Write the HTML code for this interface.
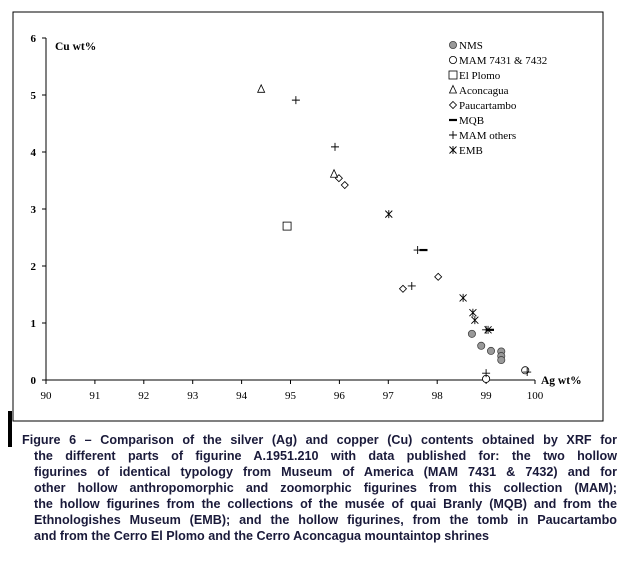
<!DOCTYPE html>
<html><head><meta charset="utf-8"><style>
body{margin:0;background:#fff;width:633px;height:569px;overflow:hidden;position:relative}
svg{position:absolute;left:0;top:0}
#cap{position:absolute;left:22px;top:432px;width:595px;font:bold 12.6px/16px "Liberation Sans",sans-serif;color:#1a1a3a}
#cap div{text-align:justify;text-align-last:justify;padding-left:12px;white-space:nowrap}
#cap div.first{padding-left:0}
#cap div.last{text-align-last:left}
#bar{position:absolute;left:8px;top:411px;width:4px;height:36px;background:#000}
</style></head><body>
<svg id="chart" width="633" height="569" font-family="Liberation Serif, serif">
<rect x="13" y="12" width="590" height="409" fill="none" stroke="#000" stroke-width="1"/>
</svg>
<div id="bar"></div>
<div id="cap">
<div class="first">Figure 6 – Comparison of the silver (Ag) and copper (Cu) contents obtained by XRF for</div>
<div>the different parts of figurine A.1951.210 with data published for: the two hollow</div>
<div>figurines of identical typology from Museum of America (MAM 7431 &amp; 7432) and for</div>
<div>other hollow anthropomorphic and zoomorphic figurines from this collection (MAM);</div>
<div>the hollow figurines from the collections of the musée of quai Branly (MQB) and from the</div>
<div>Ethnologishes Museum (EMB); and the hollow figurines, from the tomb in Paucartambo</div>
<div class="last">and from the Cerro El Plomo and the Cerro Aconcagua mountaintop shrines</div>
</div>
<script>
const xTicks=[90,91,92,93,94,95,96,97,98,99,100];
const yTicks=[0,1,2,3,4,5,6];
const seriesNames=["NMS","MAM 7431 & 7432","El Plomo","Aconcagua","Paucartambo","MQB","MAM others","EMB"];
const nmsAg=[98.71,98.9,99.1,99.31,99.31,99.31];
const nmsCu=[0.81,0.6,0.51,0.5,0.42,0.35];
const mam74Ag=[99.0,99.8];
const mam74Cu=[0.02,0.17];
const plomoAg=[94.93];
const plomoCu=[2.7];
const aconAg=[94.4,95.89];
const aconCu=[5.1,3.61];
const paucAg=[95.99,96.11,97.3,98.02];
const paucCu=[3.54,3.42,1.6,1.81];
const mqbAg=[97.72,99.08];
const mqbCu=[2.28,0.88];
const mamAg=[95.11,95.91,97.48,99.0,99.84,97.6,99.0];
const mamCu=[4.91,4.09,1.65,0.12,0.14,2.28,0.88];
const embAg=[97.01,98.53,98.73,98.77,99.04];
const embCu=[2.91,1.44,1.18,1.05,0.88];

const NS="http://www.w3.org/2000/svg";
const svg=document.getElementById('chart');
const X=v=>46+(v-90)*48.9;
const Y=v=>380-v*57;
function mk(t,a,p){const e=document.createElementNS(NS,t);for(const k in a)e.setAttribute(k,a[k]);(p||svg).appendChild(e);return e;}
const axes=mk('g',{});


let l=mk('line',{x1:X(90),y1:Y(0),x2:X(100),y2:Y(0),stroke:'#000'},axes);


l=mk('line',{x1:X(90),y1:Y(0),x2:X(90),y2:Y(6),stroke:'#000'},axes);


xTicks.forEach(t=>{
 mk('line',{x1:X(t),y1:Y(0),x2:X(t),y2:Y(0)+4,stroke:'#000'},axes);
 const tx=mk('text',{x:X(t),y:Y(0)+19,'font-size':11,'text-anchor':'middle'},axes);
 tx.textContent=t;
 
 
});
yTicks.forEach(t=>{
 mk('line',{x1:X(90)-4,y1:Y(t),x2:X(90),y2:Y(t),stroke:'#000'},axes);
 const tx=mk('text',{x:X(90)-10,y:Y(t)+4,'font-size':11,'font-weight':'bold','text-anchor':'end'},axes);
 tx.textContent=t;
 
 
});
let tt=mk('text',{x:55,y:50,'font-size':11.5,'font-weight':'bold'});
tt.textContent='Cu wt%';


tt=mk('text',{x:541,y:384,'font-size':11.5,'font-weight':'bold'});
tt.textContent='Ag wt%';



function marker(type,x,y,g){
 const s='#000';
 if(type===0)return mk('circle',{cx:x,cy:y,r:3.6,fill:'#999',stroke:'#444','stroke-width':0.8},g);
 if(type===1)return mk('circle',{cx:x,cy:y,r:3.6,fill:'#fff',stroke:s,'stroke-width':0.8},g);
 if(type===2)return mk('rect',{x:x-4,y:y-4,width:8,height:8,fill:'#fff',stroke:s,'stroke-width':0.8},g);
 if(type===3)return mk('path',{d:`M${x} ${y-4.5}L${x+3.5} ${y+3}L${x-3.5} ${y+3}Z`,fill:'none',stroke:s,'stroke-width':0.8},g);
 if(type===4)return mk('path',{d:`M${x} ${y-3.5}L${x+3.5} ${y}L${x} ${y+3.5}L${x-3.5} ${y}Z`,fill:'none',stroke:s,'stroke-width':0.8},g);
 if(type===5)return mk('line',{x1:x-4,y1:y,x2:x+4,y2:y,stroke:s,'stroke-width':2.2},g);
 if(type===6)return mk('path',{d:`M${x-4} ${y}H${x+4}M${x} ${y-4}V${y+4}`,stroke:s,'stroke-width':0.9},g);
 return mk('path',{d:`M${x-3.5} ${y-3.5}L${x+3.5} ${y+3.5}M${x+3.5} ${y-3.5}L${x-3.5} ${y+3.5}M${x} ${y-4}V${y+4}`,stroke:s,'stroke-width':0.9},g);
}
const data=[[nmsAg,nmsCu],[mam74Ag,mam74Cu],[plomoAg,plomoCu],[aconAg,aconCu],[paucAg,paucCu],[mqbAg,mqbCu],[mamAg,mamCu],[embAg,embCu]];
const names=['nms','mam-7431-7432','el-plomo','aconcagua','paucartambo','mqb','mam-others','emb'];
data.forEach((d,i)=>{
 const g=mk('g',{});
 
 
 d[0].forEach((ag,j)=>{
  const m=marker(i,X(ag),Y(d[1][j]),g);
  
  
 });
});
const lg=mk('g',{});


seriesNames.forEach((n,i)=>{
 const y=45+i*15;
 const e=mk('g',{},lg);
 
 
 marker(i,453,y,e);
 const t=mk('text',{x:459,y:y+4,'font-size':11},e);
 t.textContent=n;
});
</script>
</body></html>
